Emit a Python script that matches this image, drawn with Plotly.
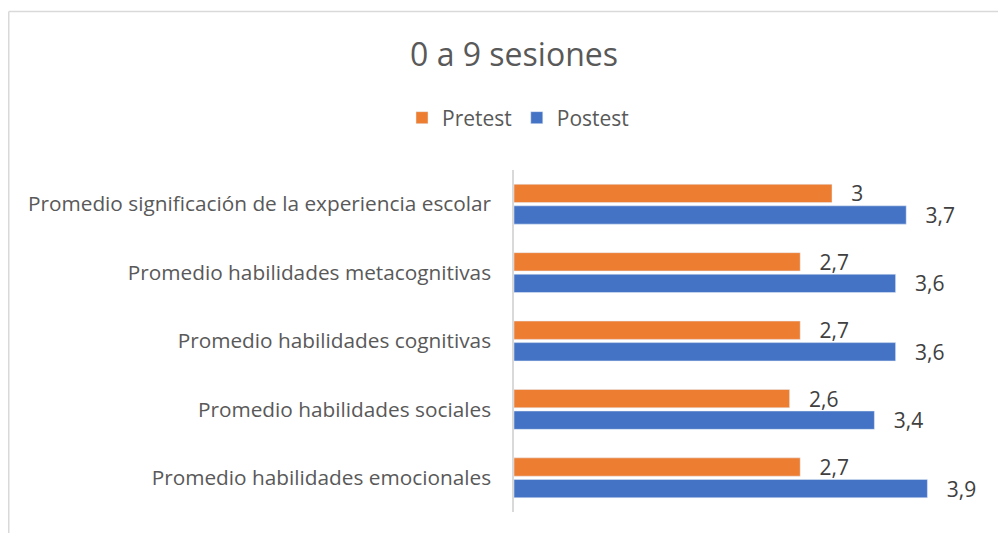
import plotly.graph_objects as go

categories = [
    "Promedio habilidades emocionales",
    "Promedio habilidades sociales",
    "Promedio habilidades cognitivas",
    "Promedio habilidades metacognitivas",
    "Promedio significación de la experiencia escolar",
]
pretest = [2.7, 2.6, 2.7, 2.7, 3.0]
postest = [3.9, 3.4, 3.6, 3.6, 3.7]
pretest_labels = ["2,7", "2,6", "2,7", "2,7", "3"]
postest_labels = ["3,9", "3,4", "3,6", "3,6", "3,7"]

FONT = "Open Sans"
OFF = 8  # page body margin offset

fig = go.Figure()
fig.add_trace(go.Bar(
    y=categories, x=postest, name="Postest", orientation="h",
    marker=dict(color="#4472C4"), legendrank=2,
    text=["   " + t for t in postest_labels], textposition="outside",
    constraintext="none",
    textfont=dict(size=21, color="#404040", family=FONT), cliponaxis=False,
))
fig.add_trace(go.Bar(
    y=categories, x=pretest, name="Pretest", orientation="h",
    marker=dict(color="#ED7D31"), legendrank=1,
    text=["   " + t for t in pretest_labels], textposition="outside",
    constraintext="none",
    textfont=dict(size=21, color="#404040", family=FONT), cliponaxis=False,
))

W, H = 1006 - OFF, 533 - OFF
fig.update_layout(
    width=W, height=H,
    margin=dict(l=514 - OFF, r=15, t=170 - OFF, b=21),
    paper_bgcolor="white", plot_bgcolor="white",
    barmode="group", bargap=0.37, bargroupgap=0.15,
    font=dict(family=FONT, color="#595959"),
    title=dict(text="0 a 9 sesiones", x=(514 - OFF) / W, xanchor="center",
               y=1 - (55 - OFF) / H, yanchor="middle",
               font=dict(size=32, color="#595959", family=FONT)),
    legend=dict(orientation="h", xref="container", yref="container",
                x=(518 - OFF) / W, xanchor="center", y=1 - (118 - OFF) / H,
                yanchor="middle",
                font=dict(size=21, color="#595959", family=FONT),
                itemwidth=30),
    xaxis=dict(range=[0, 4.5], visible=False, showgrid=False, zeroline=False),
    yaxis=dict(showline=True, linecolor="#d9d9d9", linewidth=1.5,
               ticks="", showgrid=False,
               tickfont=dict(size=20.8, color="#595959", family=FONT),
               ticklabelstandoff=17),
    showlegend=True,
)
# outer chart frame (partially visible)
px_w = 991 - 514
px_h = 512 - 170
def xp(px):
    return (px - 514) / px_w
def yp(py):
    return (512 - py) / px_h
fig.add_shape(type="line", xref="paper", yref="paper",
              x0=xp(8.75), x1=xp(8.75), y0=yp(11.5), y1=yp(540),
              line=dict(color="#d9d9d9", width=1.5))
fig.add_shape(type="line", xref="paper", yref="paper",
              x0=xp(8.75), x1=xp(1010), y0=yp(11.5), y1=yp(11.5),
              line=dict(color="#d9d9d9", width=1.5))

fig.write_html("out.html")
